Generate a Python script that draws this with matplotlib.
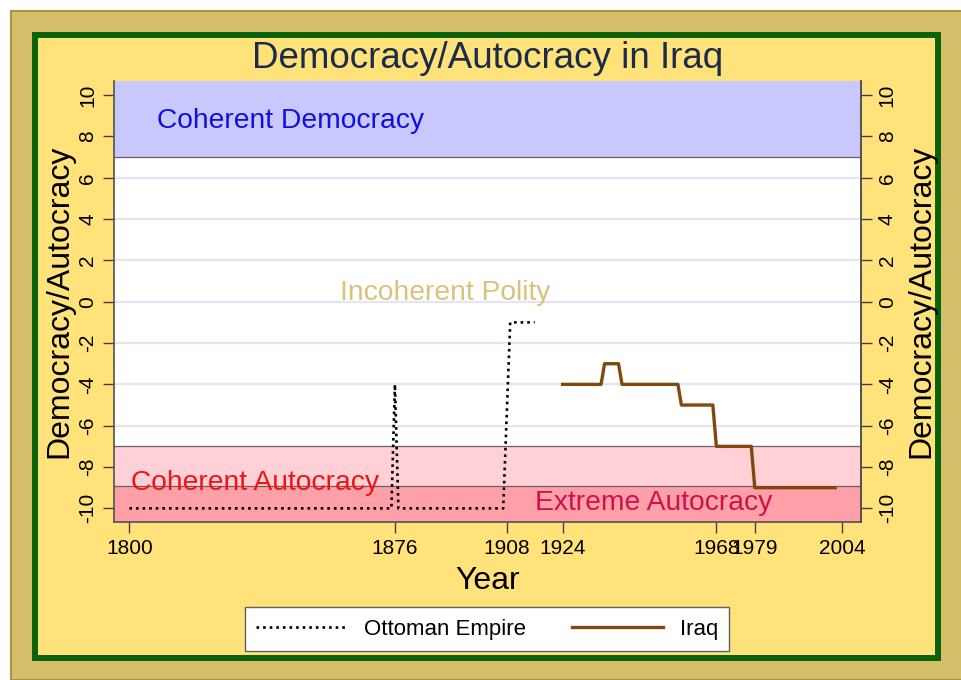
import matplotlib
matplotlib.use("Agg")
import matplotlib.pyplot as plt
from matplotlib.patches import Rectangle

plt.rcParams['font.family'] = ['Liberation Sans', 'DejaVu Sans']

# ---- data ----
ottoman_years = [1800, 1875, 1876, 1877, 1907, 1909, 1916]
ottoman_vals = [-10, -10, -4, -10, -10, -1, -1]

iraq_years = [1924, 1935, 1936, 1940, 1941, 1957, 1958, 1967, 1968, 1978, 1979, 2002]
iraq_vals = [-4, -4, -3, -3, -4, -4, -5, -5, -7, -7, -9, -9]

x_ticks = [1800, 1876, 1908, 1924, 1968, 1979, 2004]
y_ticks = list(range(-10, 11, 2))

bands = [  # (low, high, colour)
    (7, 10.68, '#c8c8fc'),
    (-10.66, -7, '#ffd0d6'),
    (-10.66, -8.9, '#ffa0a8'),
]

W, H = 962, 680
fig = plt.figure(figsize=(W / 100, H / 100), dpi=100, facecolor='white')

# outer tan frame
fig.patches.append(Rectangle((11 / W, 0), (W - 11) / W, (H - 11) / H,
                             transform=fig.transFigure, facecolor='#d5bf6a',
                             edgecolor='#a8924c', linewidth=1.5, zorder=-10))
# green frame with yellow fill
fig.patches.append(Rectangle((35 / W, 1 - 658 / H), (938 - 35) / W, (658 - 35) / H,
                             transform=fig.transFigure, facecolor='#ffe27a',
                             edgecolor='#0b620b', linewidth=4.3, zorder=-9))

ax = fig.add_axes([114 / W, 1 - 522 / H, (861 - 114) / W, (522 - 81) / H])
ax.set_facecolor('white')
xmin, xmax = 1795.6, 2009.4
ymin, ymax = -10.66, 10.68
ax.set_xlim(xmin, xmax)
ax.set_ylim(ymin, ymax)

for y in y_ticks:
    ax.axhline(y, color='#e2e6f0', lw=1.6, zorder=0.5)

for lo, hi, c in bands:
    ax.axhspan(lo, hi, facecolor=c, edgecolor='none', zorder=1)
for yb in [7, -7, -8.9]:
    ax.axhline(yb, color='#6a6060', lw=0.9, zorder=1.2)

ax.plot(ottoman_years, ottoman_vals, color='black', linestyle=(0, (1, 1.5)),
        lw=1.9, zorder=3, label='Ottoman Empire')
ax.plot(iraq_years, iraq_vals, color='#80480f', lw=2.4, zorder=3, label='Iraq')

band_fs = 20.3
ax.text(1807.9, 8.74, 'Coherent Democracy', color='#1010e0', fontsize=band_fs,
        va='center', ha='left', zorder=2)
ax.text(1890.4, 0.42, 'Incoherent Polity', color='#d9c27c', fontsize=band_fs,
        va='center', ha='center', zorder=2)
ax.text(1800.5, -8.77, 'Coherent Autocracy', color='#ee1515', fontsize=band_fs,
        va='center', ha='left', zorder=2)
ax.text(1916.2, -9.73, 'Extreme Autocracy', color='#d0104a', fontsize=band_fs,
        va='center', ha='left', zorder=2)

tick_fs = 15
ax.set_xticks(x_ticks)
ax.set_xticklabels([str(t) for t in x_ticks], fontsize=tick_fs)
ax.set_yticks(y_ticks)
ax.set_yticklabels([str(t) for t in y_ticks], fontsize=tick_fs, rotation=90, va='center')
ax.tick_params(axis='both', direction='out', length=8, width=1, color='#404040', pad=4)

ax.spines['top'].set_visible(False)
for s in ['left', 'right', 'bottom']:
    ax.spines[s].set_color('#505050')
    ax.spines[s].set_linewidth(1.2)

ax.set_xlabel('Year', fontsize=23, labelpad=6)
ax.set_ylabel('Democracy/Autocracy', fontsize=23, labelpad=3)
ax.set_title('Democracy/Autocracy in Iraq', fontsize=26.5, color='#1c2b48', pad=9)

ax2 = ax.twinx()
ax2.set_ylim(ymin, ymax)
ax2.set_yticks(y_ticks)
ax2.set_yticklabels([str(t) for t in y_ticks], fontsize=tick_fs, rotation=90, va='center')
ax2.tick_params(axis='y', direction='out', length=8, width=1, color='#404040', pad=4)
ax2.set_ylabel('Democracy/Autocracy', fontsize=23, rotation=90, labelpad=7)
for s in ['top', 'left', 'bottom']:
    ax2.spines[s].set_visible(False)
ax2.spines['right'].set_color('#505050')
ax2.spines['right'].set_linewidth(1.2)

leg = ax.legend(loc='center', bbox_to_anchor=(487 / W, 1 - 629 / H),
                bbox_transform=fig.transFigure, ncol=2, fontsize=16,
                frameon=True, fancybox=False, edgecolor='#606060', framealpha=1,
                facecolor='white', handlelength=4.1, handletextpad=0.75,
                columnspacing=2.1, borderpad=0.5, borderaxespad=0)
leg.get_frame().set_linewidth(1.0)

fig.savefig('out.png', dpi=100, facecolor=fig.get_facecolor())
